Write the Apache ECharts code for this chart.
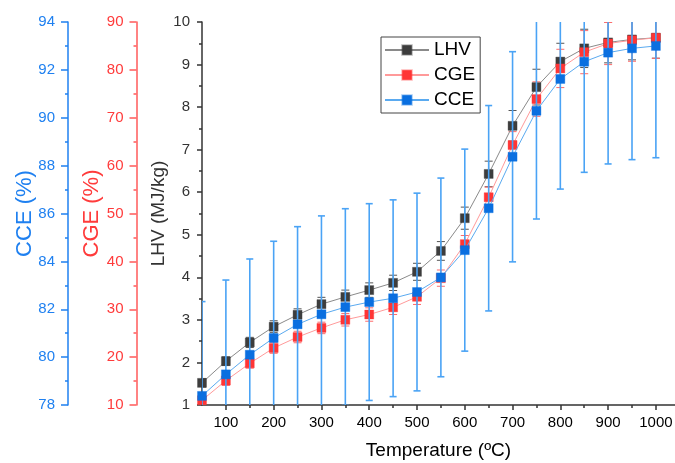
<!DOCTYPE html>
<html>
<head>
<meta charset="utf-8">
<script src="https://cdn.jsdelivr.net/npm/echarts@6/dist/echarts.min.js"></script>
<style>
  html, body { margin: 0; padding: 0; background: #fff; }
  #chart { width: 675px; height: 463px; }
</style>
</head>
<body>
<div id="chart"></div>
<script>
// temperatures (ºC)
var temps = [50, 100, 150, 200, 250, 300, 350, 400, 450, 500, 550, 600, 650, 700, 750, 800, 850, 900, 950, 1000];
// LHV (MJ/kg)
var lhv = [1.52, 2.03, 2.47, 2.84, 3.12, 3.37, 3.54, 3.70, 3.87, 4.13, 4.62, 5.39, 6.43, 7.56, 8.47, 9.07, 9.38, 9.52, 9.59, 9.63];
var lhvErr = [0.10, 0.10, 0.12, 0.14, 0.14, 0.16, 0.16, 0.17, 0.18, 0.20, 0.22, 0.26, 0.30, 0.36, 0.42, 0.43, 0.45, 0.48, 0.48, 0.48];
// CGE (%)
var cge = [11.0, 15.1, 18.7, 21.9, 24.2, 26.1, 27.8, 28.9, 30.4, 32.6, 36.5, 43.6, 53.4, 64.3, 73.9, 80.3, 83.7, 85.5, 86.2, 86.7];
var cgeErr = [0.8, 1.0, 1.0, 1.1, 1.2, 1.2, 1.3, 1.4, 1.5, 1.6, 1.7, 1.8, 2.1, 2.8, 3.6, 4.0, 4.5, 4.4, 4.4, 4.3];
// CCE (%)
var cce = [78.38, 79.28, 80.10, 80.80, 81.37, 81.79, 82.09, 82.30, 82.46, 82.72, 83.33, 84.47, 86.22, 88.37, 90.29, 91.62, 92.34, 92.72, 92.90, 93.00];
var cceErr = [3.94, 3.94, 4.00, 4.04, 4.08, 4.11, 4.11, 4.11, 4.11, 4.13, 4.15, 4.22, 4.29, 4.39, 4.52, 4.60, 4.62, 4.65, 4.65, 4.67];

var majorX = [100, 200, 300, 400, 500, 600, 700, 800, 900, 1000];
var minorX = [150, 250, 350, 450, 550, 650, 750, 850, 950];

function pairs(vals) {
  return temps.map(function (t, i) { return [t, vals[i]]; });
}
function triples(vals, errs) {
  return temps.map(function (t, i) { return [t, vals[i], errs[i]]; });
}

function errRender(color, width, cap) {
  return function (params, api) {
    var x = api.value(0), y = api.value(1), e = api.value(2);
    var top = api.coord([x, y + e]);
    var bot = api.coord([x, y - e]);
    var st = { stroke: color, lineWidth: width };
    return {
      type: 'group',
      children: [
        { type: 'line', shape: { x1: top[0], y1: top[1], x2: bot[0], y2: bot[1] }, style: st },
        { type: 'line', shape: { x1: top[0] - cap, y1: top[1], x2: top[0] + cap, y2: top[1] }, style: st },
        { type: 'line', shape: { x1: bot[0] - cap, y1: bot[1], x2: bot[0] + cap, y2: bot[1] }, style: st }
      ]
    };
  };
}

var font = 'Liberation Sans, Arial, sans-serif';

function yAx(name, min, max, interval, color, offset, labelColor, nameGap, nameSize, tickLen, margin) {
  return {
    type: 'value', position: 'left', offset: offset,
    min: min, max: max, interval: interval,
    name: name, nameLocation: 'middle', nameGap: nameGap, nameMoveOverlap: false,
    nameTextStyle: { color: labelColor, fontSize: nameSize, fontFamily: font },
    axisLine: { show: true, lineStyle: { color: color, width: 1.5 } },
    axisTick: { show: true, length: tickLen, lineStyle: { color: color, width: 1.5 } },
    minorTick: { show: true, splitNumber: 2, length: 3, lineStyle: { color: color, width: 1.5 } },
    axisLabel: { color: labelColor, fontSize: 15, fontFamily: font, margin: margin },
    splitLine: { show: false }
  };
}

var chart = echarts.init(document.getElementById('chart'));
chart.setOption({
  animation: false,
  backgroundColor: '#fff',
  grid: { left: 202, right: 0, top: 22, bottom: 58, containLabel: false, outerBoundsMode: 'none' },
  legend: {
    data: ['LHV', 'CGE', 'CCE'],
    orient: 'vertical',
    left: 381, top: 37,
    padding: [3, 5, 3, 3],
    itemWidth: 44, itemHeight: 12, itemGap: 5,
    borderColor: '#444', borderWidth: 1,
    textStyle: { fontSize: 19, color: '#000', fontFamily: font, lineHeight: 20 }
  },
  xAxis: [{
    type: 'value', min: 50, max: 1040,
    name: 'Temperature (ºC)', nameLocation: 'middle', nameGap: 36, nameMoveOverlap: false,
    nameTextStyle: { color: '#000', fontSize: 19, fontFamily: font },
    axisLine: { lineStyle: { color: '#333', width: 1.5 } },
    axisTick: { customValues: majorX, length: 5, lineStyle: { color: '#333', width: 1.5 } },
    axisLabel: {
      customValues: majorX, color: '#000', fontSize: 15, fontFamily: font, margin: 10,
      formatter: function (v) { return String(v); }
    },
    splitLine: { show: false }
  }, {
    type: 'value', min: 50, max: 1040, position: 'bottom',
    axisLine: { show: false },
    axisTick: { customValues: minorX, length: 3, lineStyle: { color: '#333', width: 1.5 } },
    axisLabel: { show: false },
    splitLine: { show: false }
  }],
  yAxis: [
    yAx('LHV (MJ/kg)', 1, 10, 1, '#333', 0, '#333', 34, 19, 5, 12),
    yAx('CGE (%)', 10, 90, 10, '#ff5a5a', 65.5, '#ff3b3b', 34, 22, 7, 13),
    yAx('CCE (%)', 78, 94, 2, '#1f80f0', 134, '#1f80f0', 32, 22, 7, 13)
  ],
  series: [
    {
      name: 'LHV', type: 'line', yAxisIndex: 0, data: pairs(lhv),
      symbol: 'rect', symbolSize: 9, z: 5,
      lineStyle: { color: '#8a8a8a', width: 1 },
      itemStyle: { color: '#3d3d3d', borderColor: 'rgba(61,61,61,0.35)', borderWidth: 1 }
    },
    {
      name: 'CGE', type: 'line', yAxisIndex: 1, data: pairs(cge),
      symbol: 'rect', symbolSize: 9, z: 5,
      lineStyle: { color: '#ff9a9a', width: 1 },
      itemStyle: { color: '#ff3535', borderColor: 'rgba(255,53,53,0.35)', borderWidth: 1 }
    },
    {
      name: 'CCE', type: 'line', yAxisIndex: 2, data: pairs(cce),
      symbol: 'rect', symbolSize: 9, z: 7,
      lineStyle: { color: '#5aaaf0', width: 1 },
      itemStyle: { color: '#0a6fe0', borderColor: 'rgba(10,111,224,0.35)', borderWidth: 1 }
    },
    {
      name: 'lhvErr', type: 'custom', yAxisIndex: 0, data: triples(lhv, lhvErr),
      renderItem: errRender('#555', 1, 4), clip: true, z: 3, silent: true
    },
    {
      name: 'cgeErr', type: 'custom', yAxisIndex: 1, data: triples(cge, cgeErr),
      renderItem: errRender('#ff6a6a', 1, 4), clip: true, z: 3, silent: true
    },
    {
      name: 'cceErr', type: 'custom', yAxisIndex: 2, data: triples(cce, cceErr),
      renderItem: errRender('#4aa3f5', 1.6, 3.5), clip: true, z: 6, silent: true
    }
  ]
});
</script>
</body>
</html>
